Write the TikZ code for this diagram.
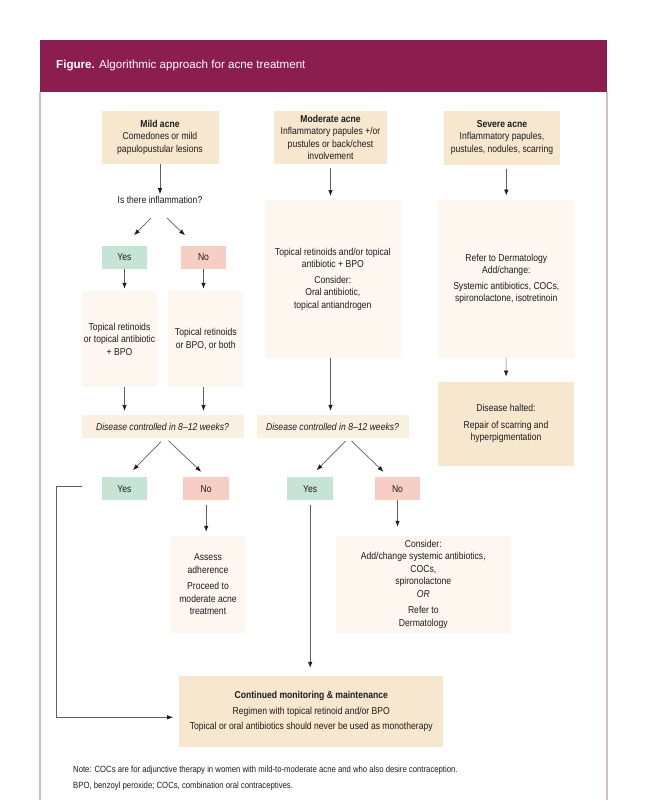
\documentclass[tikz,border=0pt]{standalone}
\usepackage{fontspec}
\setmainfont{Liberation Sans}[FakeStretch=0.86]
\newfontfamily\headfont{Liberation Sans}
\usetikzlibrary{arrows.meta}
\definecolor{plum}{RGB}{140,29,79}
\definecolor{frameline}{RGB}{214,188,202}
\definecolor{tanfill}{RGB}{246,231,206}
\definecolor{palefill}{RGB}{253,247,240}
\definecolor{askfill}{RGB}{249,240,225}
\definecolor{yesfill}{RGB}{198,228,214}
\definecolor{nofill}{RGB}{247,206,195}
\definecolor{ink}{RGB}{30,27,28}
\definecolor{wire}{RGB}{95,95,98}
\tikzset{
	card/.style={inner sep=0pt, align=center, text=ink, font=\fontsize{10}{12.5}\selectfont},
	tancard/.style={card, fill=tanfill},
	palecard/.style={card, fill=palefill},
	askcard/.style={card, fill=askfill, minimum height=23pt, font=\fontsize{10}{12.5}\selectfont\itshape},
	yescard/.style={card, fill=yesfill, minimum width=45.5pt, minimum height=23pt},
	nocard/.style={card, fill=nofill, minimum width=45.5pt, minimum height=23pt},
	arr/.style={draw=wire, line width=0.7pt, -{Latex[length=6pt,width=4.5pt,color=ink]}, shorten >=2pt},
}

\begin{document}
\begin{tikzpicture}[x=1pt, y=-1pt]
			%%%%% START %%%%%
			\useasboundingbox (0,0) rectangle (648,800);
			
			\fill[plum] (40,40) rectangle (607,91.7);
			\node[anchor=west, inner sep=0pt, text=white, font=\headfont\fontsize{11.6}{13}\selectfont] (title) at (56,66) {\textbf{Figure.} Algorithmic approach for acne treatment};
			\draw[frameline, line width=1.2pt] (40,91.7) -- (40,800);
			\draw[frameline, line width=1.2pt] (607,91.7) -- (607,800);
			
			\node[tancard, minimum width=117pt, minimum height=53pt] (mild) at (160,137.3) {\textbf{Mild acne}\\Comedones or mild\\papulopustular lesions};
			\node[tancard, minimum width=113pt, minimum height=53pt] (moderate) at (330.5,137.3) {\textbf{Moderate acne}\\Inflammatory papules +/or\\pustules or back/chest\\involvement};
			\node[tancard, minimum width=116pt, minimum height=54pt] (severe) at (502,137.5) {\textbf{Severe acne}\\Inflammatory papules,\\pustules, nodules, scarring};
			
			\node[card] (inflam) at (160,200) {Is there inflammation?};
			\node[yescard] (yesA) at (124.5,257.2) {Yes};
			\node[nocard] (noA) at (203.5,257.2) {No};
			\node[palecard, minimum width=75.5pt, minimum height=96pt] (topA) at (119.5,339) {Topical retinoids\\or topical antibiotic\\+ BPO};
			\node[palecard, minimum width=75pt, minimum height=96pt] (topB) at (205.8,339) {Topical retinoids\\or BPO, or both};
			\node[askcard, minimum width=162pt] (askA) at (162.5,426.7) {Disease controlled in 8–12 weeks?};
			
			\node[palecard, minimum width=136pt, minimum height=158pt] (modplan) at (332.8,279.2) {Topical retinoids and/or topical\\antibiotic + BPO\\[3pt]Consider:\\Oral antibiotic,\\topical antiandrogen};
			\node[askcard, minimum width=152pt] (askB) at (332.5,426.5) {Disease controlled in 8–12 weeks?};
			
			\node[palecard, minimum width=136pt, minimum height=158pt] (sevplan) at (506.3,278.8) {Refer to Dermatology\\Add/change:\\[3pt]Systemic antibiotics, COCs,\\spironolactone, isotretinoin};
			\node[tancard, minimum width=136pt, minimum height=84pt] (halted) at (506,423.8) {Disease halted:\\[4pt]Repair of scarring and\\hyperpigmentation};
			
			\node[yescard] (yesB) at (124.5,488.7) {Yes};
			\node[nocard] (noB) at (206.2,488.7) {No};
			\node[yescard] (yesC) at (310.2,488.7) {Yes};
			\node[nocard] (noC) at (397.5,488.7) {No};
			
			\node[palecard, minimum width=76pt, minimum height=96.7pt] (assess) at (208,584.3) {Assess\\adherence\\[4pt]Proceed to\\moderate acne\\treatment};
			\node[palecard, minimum width=175pt, minimum height=96.7pt] (consider) at (423.3,584.3) {Consider:\\Add/change systemic antibiotics,\\COCs,\\spironolactone\\\textit{OR}\\[4pt]Refer to\\Dermatology};
			
			\node[tancard, minimum width=264pt, minimum height=71.3pt] (cont) at (311.3,711.7) {\textbf{Continued monitoring \& maintenance}\\[3pt]Regimen with topical retinoid and/or BPO\\[3pt]Topical or oral antibiotics should never be used as monotherapy};
			
			\node[card, align=left, anchor=west, font=\fontsize{9}{16}\selectfont] (notes) at (73,778) {Note: COCs are for adjunctive therapy in women with mild-to-moderate acne and who also desire contraception.\\BPO, benzoyl peroxide; COCs, combination oral contraceptives.};
			
			% connectors
			\draw[arr] (mild) -- (inflam);
			\draw[arr] ([shift={(-9,18)}]inflam.center) -- ([shift={(8,-20.5)}]yesA.center);
			\draw[arr] ([shift={(7,18)}]inflam.center) -- ([shift={(-17,-20.5)}]noA.center);
			\draw[arr] (yesA) -- (yesA |- topA.north);
			\draw[arr] (noA) -- (noA |- topB.north);
			\draw[arr, shorten >=4pt] (topA.south -| yesA) -- (askA.north -| yesA);
			\draw[arr, shorten >=4pt] (topB.south -| noA) -- (askA.north -| noA);
			
			\draw[arr, shorten <=4pt, shorten >=4pt] (moderate) -- (moderate.south |- modplan.north);
			\draw[arr, shorten >=4pt] (modplan.south -| moderate) -- (askB.north -| moderate);
			\draw[arr, shorten <=4pt, shorten >=4pt] (sevplan.north |- severe.south) -- (sevplan.north);
			\draw[arr, shorten >=5pt] (sevplan) -- (halted);
			
			\draw[arr] ([shift={(-1.5,15)}]askA.center) -- ([shift={(7,-17)}]yesB.center);
			\draw[arr] ([shift={(6,14)}]askA.center) -- ([shift={(-3.5,-15.5)}]noB.center);
			\draw[arr] ([shift={(13,14.5)}]askB.center) -- ([shift={(5,-17)}]yesC.center);
			\draw[arr] ([shift={(19,14.5)}]askB.center) -- ([shift={(-12.5,-15.5)}]noC.center);
			
			\draw[arr, shorten <=5pt, shorten >=4pt] (noB) -- (noB |- assess.north);
			\draw[arr, shorten >=9pt] (noC) -- (noC |- consider.north);
			\draw[arr, shorten <=5pt, shorten >=8pt] (yesC) -- (yesC |- cont.north);
			\coordinate (loopstart) at ([xshift=-20pt,yshift=2.7pt]yesB.west);
			\draw[arr, shorten >=6pt] (loopstart) -- ++(-25,0) |- ([yshift=-5.6pt]cont.west);
			
			%%%%% END %%%%%
\end{tikzpicture}
\end{document}
